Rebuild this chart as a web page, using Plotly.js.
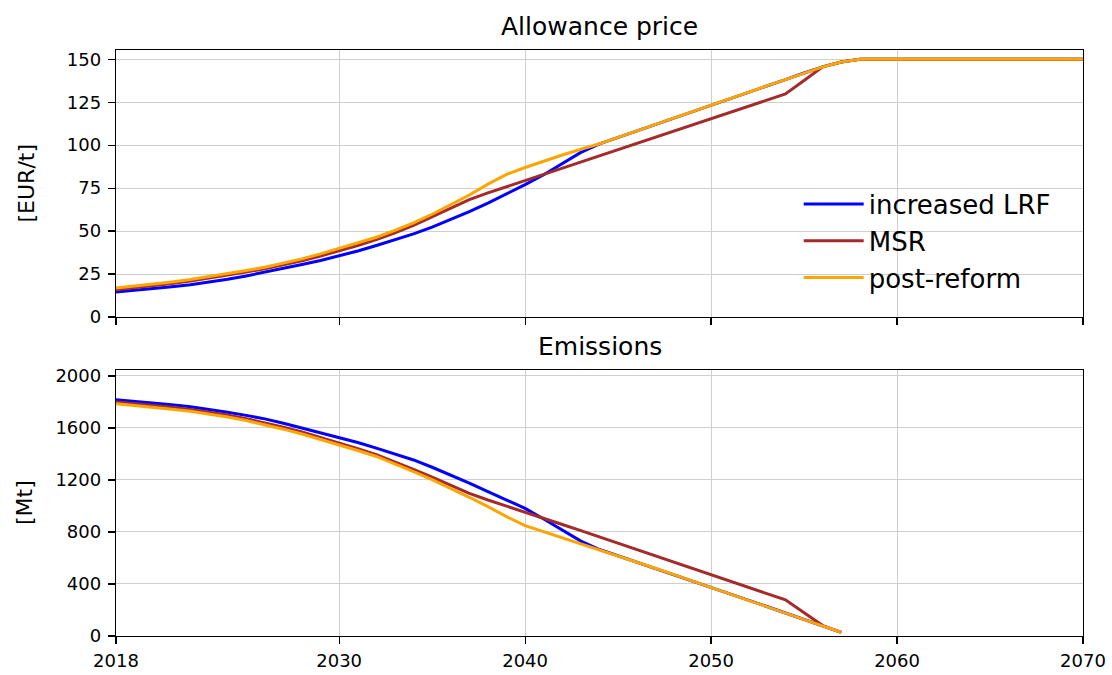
<!DOCTYPE html>
<html>
<head>
<meta charset="utf-8">
<script src="https://cdn.plot.ly/plotly-3.0.1.min.js"></script>
<style>html,body{margin:0;padding:0;background:#fff;}#chart{width:1112px;height:675px;}</style>
</head>
<body>
<div id="chart"></div>
<script>
const priceYears = [2018,2019,2020,2021,2022,2023,2024,2025,2026,2027,2028,2029,2030,2031,2032,2033,2034,2035,2036,2037,2038,2039,2040,2041,2042,2043,2044,2045,2046,2047,2048,2049,2050,2051,2052,2053,2054,2055,2056,2057,2058,2059,2060,2061,2062,2063,2064,2065,2066,2067,2068,2069,2070];
const emisYears = [2018,2019,2020,2021,2022,2023,2024,2025,2026,2027,2028,2029,2030,2031,2032,2033,2034,2035,2036,2037,2038,2039,2040,2041,2042,2043,2044,2045,2046,2047,2048,2049,2050,2051,2052,2053,2054,2055,2056,2057];

const priceLRF = [14.5,15.4,16.5,17.6,18.8,20.3,22.0,23.9,26.0,28.2,30.5,32.9,35.5,38.4,41.6,44.9,48.4,52.3,56.6,61.3,66.3,71.5,77.0,82.8,89.5,95.8,100.8,104.5,108.3,112.0,115.8,119.5,123.2,127.0,130.7,134.5,138.2,142.0,145.6,148.4,150,150,150,150,150,150,150,150,150,150,150,150,150];
const priceMSR = [15.9,17.0,18.2,19.5,20.9,22.5,24.2,26.1,28.1,30.3,32.7,35.5,38.5,41.6,45.0,48.9,53.3,58.2,63.4,68.3,72.2,75.8,79.3,82.9,86.5,90.1,93.7,97.3,100.9,104.5,108.1,111.7,115.3,118.9,122.5,126.1,129.8,137.6,145.6,148.4,150,150,150,150,150,150,150,150,150,150,150,150,150];
const pricePost = [16.8,17.9,19.1,20.4,21.8,23.4,25.1,27.0,29.0,31.3,33.8,36.7,39.8,43.0,46.4,50.4,54.8,59.8,65.2,71.0,77.3,83.0,87.0,90.8,94.3,97.6,100.8,104.5,108.3,112.0,115.8,119.5,123.2,127.0,130.7,134.5,138.2,142.0,145.6,148.4,150,150,150,150,150,150,150,150,150,150,150,150,150];

const emisLRF = [1817,1806,1794,1779,1763,1743,1721,1697,1670,1637,1600,1565,1528,1488,1445,1400,1354,1298,1238,1176,1110,1046,982,900,815,730,665,617,569,521,472,423,374,325,276,227,177,127,77,28];
const emisMSR = [1800,1788,1774,1759,1743,1722,1700,1672,1641,1606,1569,1528,1485,1441,1395,1340,1282,1222,1161,1097,1046,1000,955,907,858,810,761,713,664,616,567,519,470,422,374,326,278,180,80,28];
const emisPost = [1786,1774,1760,1745,1729,1708,1685,1657,1626,1591,1554,1513,1471,1427,1381,1324,1264,1202,1136,1067,995,918,849,803,756,711,665,617,569,521,472,423,374,325,276,227,177,127,77,28];

const seriesNames = ['increased LRF','MSR','post-reform'];
const seriesColors = ['#0000ff','#a52a2a','#ffa500'];
const xTicks = [2018,2030,2040,2050,2060,2070];
const priceTicks = [0,25,50,75,100,125,150];
const emisTicks = [0,400,800,1200,1600,2000];

const FONT = 'DejaVu Sans, Arial, sans-serif';
const priceData = [priceLRF, priceMSR, pricePost];
const emisData = [emisLRF, emisMSR, emisPost];
const traces = [];
for (let i = 0; i < 3; i++) {
  traces.push({x: priceYears, y: priceData[i], type: 'scatter', mode: 'lines', name: seriesNames[i],
    line: {color: seriesColors[i], width: 3}, xaxis: 'x', yaxis: 'y', showlegend: true});
}
for (let i = 0; i < 3; i++) {
  traces.push({x: emisYears, y: emisData[i], type: 'scatter', mode: 'lines', name: seriesNames[i],
    line: {color: seriesColors[i], width: 3}, xaxis: 'x2', yaxis: 'y2', showlegend: false});
}

const axCommon = {showline: true, linecolor: '#000', linewidth: 1.2, mirror: true, ticks: 'outside',
  ticklen: 7, tickwidth: 1.2, tickcolor: '#000', showgrid: true, gridcolor: '#cfcfcf', gridwidth: 1,
  zeroline: false, tickfont: {family: FONT, size: 18, color: '#000'}};

const layout = {
  width: 1112, height: 675,
  paper_bgcolor: '#fff', plot_bgcolor: '#fff',
  margin: {l: 116, r: 29, t: 50, b: 39},
  font: {family: FONT, color: '#000'},
  xaxis: Object.assign({}, axCommon, {domain: [0, 1], anchor: 'y', range: [2018, 2070], tickvals: xTicks, showticklabels: false}),
  xaxis2: Object.assign({}, axCommon, {domain: [0, 1], anchor: 'y2', range: [2018, 2070], tickvals: xTicks, ticktext: xTicks.map(String), ticklabelstandoff: 1}),
  yaxis: Object.assign({}, axCommon, {domain: [0.5444, 1], anchor: 'x', range: [0, 155.4], tickvals: priceTicks, ticklabelstandoff: 3}),
  yaxis2: Object.assign({}, axCommon, {domain: [0, 0.4539], anchor: 'x2', range: [0, 2046], tickvals: emisTicks, ticklabelstandoff: 3}),
  legend: {x: 0.706, y: 0.674, xanchor: 'left', yanchor: 'middle', bgcolor: 'rgba(0,0,0,0)', borderwidth: 0,
    font: {family: FONT, size: 26, color: '#000'}, itemwidth: 60},
  annotations: [
    {text: 'Allowance price', xref: 'paper', yref: 'paper', x: 0.5, y: 1, yshift: 7, yanchor: 'bottom', showarrow: false,
      font: {family: FONT, size: 25, color: '#000'}},
    {text: 'Emissions', xref: 'paper', yref: 'paper', x: 0.5, y: 0.4539, yshift: 7, yanchor: 'bottom', showarrow: false,
      font: {family: FONT, size: 25, color: '#000'}},
    {text: '[EUR/t]', xref: 'paper', yref: 'paper', x: 0, xshift: -90, y: 0.7722, textangle: -90, showarrow: false,
      xanchor: 'center', yanchor: 'middle', font: {family: FONT, size: 22, color: '#000'}},
    {text: '[Mt]', xref: 'paper', yref: 'paper', x: 0, xshift: -91, y: 0.227, textangle: -90, showarrow: false,
      xanchor: 'center', yanchor: 'middle', font: {family: FONT, size: 22, color: '#000'}}
  ]
};

Plotly.newPlot('chart', traces, layout, {displayModeBar: false, staticPlot: true});
</script>
</body>
</html>
